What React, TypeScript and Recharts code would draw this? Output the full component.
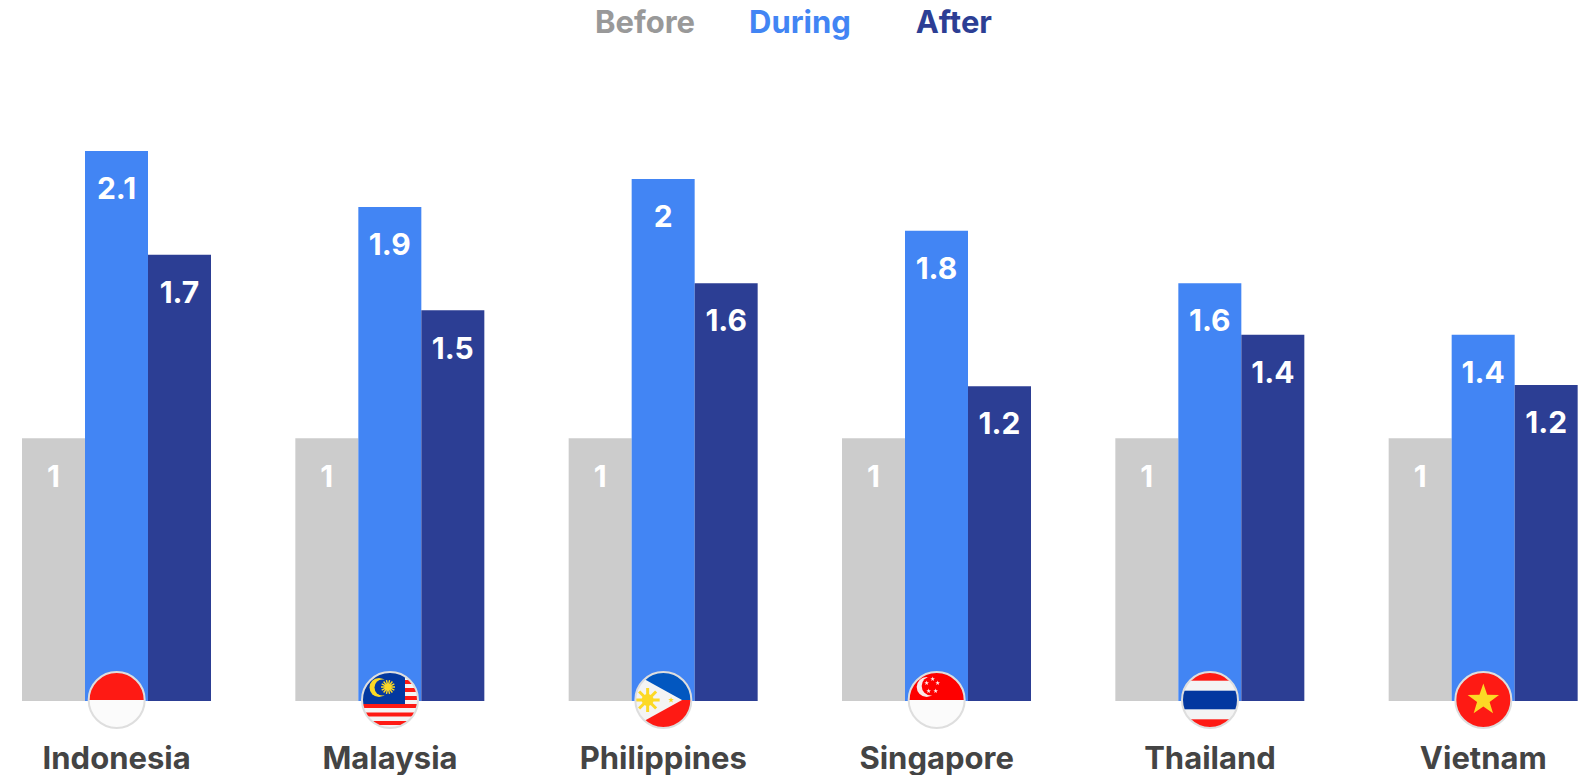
import { Bar, BarChart, LabelList, Legend, XAxis, YAxis } from 'recharts';

// Bars are relative to the "Before" level (1), labels show one decimal.
const COUNTRIES = ['Indonesia', 'Malaysia', 'Philippines', 'Singapore', 'Thailand', 'Vietnam'];
const BEFORE = [1, 1, 1, 1, 1, 1];
const DURING = [2.093, 1.88, 1.986, 1.789, 1.59, 1.394];
const AFTER = [1.698, 1.487, 1.59, 1.198, 1.394, 1.202];

const GREY = '#cccccc';
const BLUE = '#4285f4';
const NAVY = '#2c3e94';
const FONT = 'Inter, sans-serif';

const data = COUNTRIES.map((country, i) => ({
  country,
  Before: BEFORE[i],
  During: DURING[i],
  After: AFTER[i],
}));

const RED = '#fe1a14';
const FLAG_BLUE = '#0338a0';
const PALE = '#f4f4f4';
const WHITE_HALF = '#fbfbfb';
const YELLOW = '#fcd925';

function star(cx: number, cy: number, r: number) {
  const pts = [];
  for (let i = 0; i < 10; i++) {
    const a = -Math.PI / 2 + (i * Math.PI) / 5;
    const d = i % 2 ? r * 0.4 : r;
    pts.push(`${cx + d * Math.cos(a)},${cy + d * Math.sin(a)}`);
  }
  return pts.join(' ');
}

function Sun({ cx, cy, r, rays, ray }: { cx: number; cy: number; r: number; rays: number; ray: number }) {
  return (
    <g>
      {Array.from({ length: rays }, (_, i) => {
        const a = (i * 2 * Math.PI) / rays;
        return (
          <line
            key={i}
            x1={cx}
            y1={cy}
            x2={cx + r * 2 * Math.cos(a)}
            y2={cy + r * 2 * Math.sin(a)}
            stroke={YELLOW}
            strokeWidth={ray}
          />
        );
      })}
      <circle cx={cx} cy={cy} r={r} fill={YELLOW} />
    </g>
  );
}

// flag art in a local box centred on 0,0 (circle radius 28)
function FlagArt({ name }: { name: string }) {
  switch (name) {
    case 'Indonesia':
      return (
        <>
          <rect x={-30} y={-30} width={60} height={30} fill={RED} />
          <rect x={-30} y={0} width={60} height={30} fill={WHITE_HALF} />
        </>
      );
    case 'Malaysia':
      return (
        <>
          <rect x={-30} y={-30} width={60} height={60} fill={PALE} />
          {[-20, -12, -4, 4, 12.5, 21].map((y) => (
            <rect key={y} x={-30} y={y} width={60} height={4} fill={RED} />
          ))}
          <rect x={-30} y={-30} width={45} height={34} fill={FLAG_BLUE} />
          <circle cx={-11} cy={-12.5} r={9.5} fill={YELLOW} />
          <circle cx={-7.5} cy={-12.5} r={8} fill={FLAG_BLUE} />
          <Sun cx={-2} cy={-13} r={3.5} rays={14} ray={1.4} />
        </>
      );
    case 'Philippines':
      return (
        <>
          <rect x={-30} y={-30} width={60} height={30} fill="#0257c0" />
          <rect x={-30} y={0} width={60} height={30} fill={RED} />
          <polygon points="-30,-27 18.7,0 -30,27" fill={PALE} />
          <Sun cx={-15.7} cy={0} r={6} rays={8} ray={3} />
          <polygon points={star(7.7, 0, 3)} fill={YELLOW} />
        </>
      );
    case 'Singapore':
      return (
        <>
          <rect x={-30} y={-30} width={60} height={30} fill="#fe0000" />
          <rect x={-30} y={0} width={60} height={30} fill={WHITE_HALF} />
          <circle cx={-10} cy={-13} r={10} fill="#fbe9e9" />
          <circle cx={-5.5} cy={-14} r={9.5} fill="#fe0000" />
          {[
            [-4, -21],
            [-10, -17],
            [1, -17],
            [-8, -9],
            [-1, -9],
          ].map(([x, y]) => (
            <polygon key={`${x}${y}`} points={star(x, y, 2.5)} fill="#fbe9e9" />
          ))}
        </>
      );
    case 'Thailand':
      return (
        <>
          <rect x={-30} y={-30} width={60} height={60} fill={PALE} />
          <rect x={-30} y={-30} width={60} height={10.7} fill={RED} />
          <rect x={-30} y={19.3} width={60} height={10.7} fill={RED} />
          <rect x={-30} y={-9.3} width={60} height={18.6} fill={FLAG_BLUE} />
        </>
      );
    default:
      return (
        <>
          <rect x={-30} y={-30} width={60} height={60} fill={RED} />
          <polygon points={star(0, 0, 16.5)} fill={YELLOW} />
        </>
      );
  }
}

function CountryTick({ x, y, payload }: any) {
  const name = payload.value as string;
  const id = `flag-${name}`;
  return (
    <g>
      <g transform={`translate(${x},${y - 1})`}>
        <clipPath id={id}>
          <circle r={28} />
        </clipPath>
        <g clipPath={`url(#${id})`}>
          <FlagArt name={name} />
        </g>
        <circle r={28} fill="none" stroke="#dedede" strokeWidth={2} />
      </g>
      <text x={x} y={y + 68} textAnchor="middle" fontFamily={FONT} fontSize={31} fontWeight={700} fill="#444444">
        {name}
      </text>
    </g>
  );
}

function LegendRow({ payload }: any) {
  return (
    <div style={{ display: 'flex', justifyContent: 'center', fontFamily: FONT, fontSize: 31, fontWeight: 700, paddingLeft: 3 }}>
      {['Before', 'During', 'After'].map((name, i) => {
        const item = payload?.find((p: any) => p.value === name);
        return (
          <span key={name} style={{ color: name === 'Before' ? '#999999' : item?.color, marginLeft: [0, 54, 65][i] }}>
            {name}
          </span>
        );
      })}
    </div>
  );
}

const fmt = (v: any) => String(Number(Number(v).toFixed(1)));
const labelProps = {
  position: 'insideTop' as const,
  offset: 27,
  fill: '#ffffff',
  fontFamily: FONT,
  fontSize: 30,
  fontWeight: 700,
  formatter: fmt,
};

export default function App() {
  return (
    <div style={{ position: 'absolute', left: 0, top: 0, width: 1584, height: 775, background: '#fff' }}>
      <BarChart
        width={1584}
        height={775}
        data={data}
        margin={{ top: 7, right: -36, bottom: 0, left: -20 }}
        barCategoryGap={84.4}
        barGap={0}
      >
        <YAxis hide domain={[0, 2.5]} />
        <Legend verticalAlign="top" content={LegendRow} wrapperStyle={{ top: 3, left: 0, width: 1584 }} />
        <Bar dataKey="Before" fill={GREY} barSize={63} isAnimationActive={false}>
          <LabelList dataKey="Before" {...labelProps} />
        </Bar>
        <Bar dataKey="During" fill={BLUE} barSize={63} isAnimationActive={false}>
          <LabelList dataKey="During" {...labelProps} />
        </Bar>
        <Bar dataKey="After" fill={NAVY} barSize={63} isAnimationActive={false}>
          <LabelList dataKey="After" {...labelProps} />
        </Bar>
        <XAxis
          dataKey="country"
          height={74}
          axisLine={false}
          tickLine={false}
          tickSize={0}
          tickMargin={0}
          interval={0}
          tick={CountryTick}
        />
      </BarChart>
    </div>
  );
}
